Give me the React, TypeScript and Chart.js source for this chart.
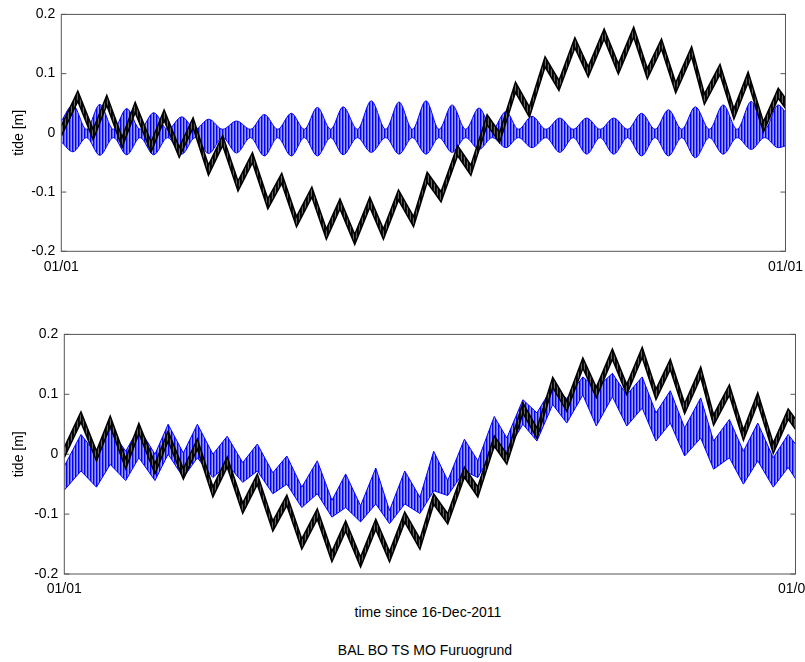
import React, { useEffect, useRef } from 'react';
import { Chart, registerables } from 'chart.js';

Chart.register(...registerables);

const FONT = "'Liberation Sans', Arial, Helvetica, sans-serif";

// ---- axis ticks ----
const yTickValues = [-0.2, -0.1, 0, 0.1, 0.2];
const yTickLabels = ['-0.2', '-0.1', '0', '0.1', '0.2'];
const xTickValues = [0, 25];
const xTickLabels = ['01/01', '01/01'];

// ---- observed tide (black), extremes, time in days ----
const obsTimes = [0, 0.57, 1.1, 1.57, 2.1, 2.55, 3.1, 3.55, 4.07, 4.55, 5.08, 5.57, 6.1, 6.6, 7.13, 7.61, 8.12, 8.65, 9.15, 9.62, 10.13, 10.65, 11.12, 11.64, 12.16, 12.63, 13.11, 13.68, 14.14, 14.7, 15.13, 15.68, 16.16, 16.7, 17.18, 17.73, 18.19, 18.74, 19.23, 19.76, 20.23, 20.72, 21.21, 21.76, 22.2, 22.74, 23.22, 23.71, 24.24, 24.75, 25];
const observed = [0.003, 0.062, -0.003, 0.055, -0.016, 0.043, -0.024, 0.03, -0.033, 0.017, -0.063, -0.013, -0.09, -0.042, -0.12, -0.077, -0.15, -0.1, -0.171, -0.12, -0.18, -0.117, -0.171, -0.105, -0.15, -0.075, -0.108, -0.03, -0.063, 0.022, -0.008, 0.077, 0.035, 0.12, 0.08, 0.152, 0.103, 0.167, 0.108, 0.17, 0.1, 0.15, 0.076, 0.137, 0.057, 0.107, 0.032, 0.094, 0.01, 0.067, 0.05];
const OBS_HALF_BAND = 0.0085;

// ---- harmonic tide (top panel, blue) envelope ----
const tideTimes = [0, 0.4, 0.87, 1.33, 1.8, 2.26, 2.72, 3.19, 3.67, 4.16, 4.62, 5.09, 5.57, 6.05, 6.53, 7.01, 7.47, 7.94, 8.39, 8.84, 9.3, 9.73, 10.22, 10.7, 11.2, 11.66, 12.12, 12.59, 13.04, 13.49, 13.96, 14.42, 14.88, 15.35, 15.78, 16.25, 16.73, 17.21, 17.67, 18.14, 18.6, 19.07, 19.55, 20.03, 20.5, 20.96, 21.42, 21.89, 22.37, 22.85, 23.33, 23.82, 24.28, 24.75, 25];
const tideUpper = [0.02, 0.047, 0.006, 0.048, 0.006, 0.041, 0.006, 0.034, 0.006, 0.027, 0.006, 0.023, 0.006, 0.02, 0.006, 0.031, 0.006, 0.033, 0.006, 0.043, 0.006, 0.044, 0.006, 0.054, 0.006, 0.052, 0.006, 0.054, 0.006, 0.047, 0.006, 0.042, 0.006, 0.036, 0.006, 0.028, 0.006, 0.025, 0.006, 0.025, 0.006, 0.025, 0.006, 0.033, 0.006, 0.039, 0.006, 0.044, 0.006, 0.047, 0.006, 0.053, 0.006, 0.047, 0.035];
const tideLower = [-0.015, -0.032, -0.008, -0.038, -0.008, -0.037, -0.008, -0.037, -0.008, -0.036, -0.008, -0.035, -0.008, -0.034, -0.008, -0.039, -0.008, -0.039, -0.008, -0.039, -0.008, -0.037, -0.008, -0.033, -0.008, -0.036, -0.008, -0.036, -0.008, -0.033, -0.008, -0.028, -0.008, -0.025, -0.008, -0.025, -0.008, -0.033, -0.008, -0.036, -0.008, -0.036, -0.008, -0.039, -0.008, -0.039, -0.008, -0.042, -0.008, -0.036, -0.008, -0.028, -0.008, -0.025, -0.022];

// ---- model tide (bottom panel, blue) envelope at obsTimes ----
const modelUpper = [-0.02, 0.033, 0.0, 0.042, 0.005, 0.044, 0.0, 0.05, 0.002, 0.05, 0.0, 0.03, -0.014, 0.017, -0.031, -0.003, -0.055, -0.011, -0.077, -0.033, -0.086, -0.023, -0.094, -0.028, -0.072, 0.005, -0.044, 0.025, -0.011, 0.063, 0.027, 0.091, 0.069, 0.113, 0.093, 0.129, 0.11, 0.135, 0.099, 0.129, 0.069, 0.106, 0.044, 0.094, 0.022, 0.058, 0.005, 0.052, -0.006, 0.033, 0.017];
const modelLower = [-0.06, -0.028, -0.055, -0.017, -0.044, -0.006, -0.044, 0.0, -0.039, -0.006, -0.039, -0.017, -0.047, -0.028, -0.066, -0.05, -0.089, -0.066, -0.105, -0.089, -0.113, -0.083, -0.116, -0.083, -0.099, -0.061, -0.069, -0.028, -0.039, 0.011, 0.005, 0.05, 0.022, 0.083, 0.052, 0.099, 0.047, 0.096, 0.047, 0.077, 0.022, 0.052, -0.003, 0.027, -0.025, -0.006, -0.05, -0.011, -0.055, -0.022, -0.041];

function stripePattern(colors: string[]): CanvasPattern | string {
  const c = document.createElement('canvas');
  c.width = colors.length;
  c.height = 1;
  const ctx = c.getContext('2d');
  if (!ctx) return colors[0];
  colors.forEach((col, i) => {
    ctx.fillStyle = col;
    ctx.fillRect(i, 0, 1, 1);
  });
  return ctx.createPattern(c, 'repeat') || colors[0];
}

function band(xs: number[], upper: number[], lower: number[], line: string, fill: any, order: number, smooth: boolean, width: number) {
  const common = {
    borderColor: line,
    borderWidth: width,
    pointRadius: 0,
    pointHoverRadius: 0,
    order,
    tension: smooth ? 0.4 : 0,
    cubicInterpolationMode: smooth ? 'monotone' : 'default',
  };
  return [
    { ...common, data: xs.map((x, i) => ({ x, y: upper[i] })), fill: false },
    { ...common, data: xs.map((x, i) => ({ x, y: lower[i] })), fill: '-1', backgroundColor: fill },
  ];
}

const boxPlugin = {
  id: 'matlabBox',
  beforeDatasetsDraw(chart: any) {
    const { ctx, chartArea } = chart;
    const { left, right } = chartArea;
    const y = chart.scales.y;
    ctx.save();
    ctx.strokeStyle = '#555';
    ctx.lineWidth = 1;
    yTickValues.forEach((v) => {
      const py = y.getPixelForValue(v);
      ctx.beginPath();
      ctx.moveTo(left, py);
      ctx.lineTo(left + 5, py);
      ctx.moveTo(right, py);
      ctx.lineTo(right - 5, py);
      ctx.stroke();
    });
    ctx.restore();
  },
  afterDatasetsDraw(chart: any) {
    const { ctx, chartArea } = chart;
    const { left, right, top, bottom } = chartArea;
    ctx.save();
    ctx.strokeStyle = '#555';
    ctx.lineWidth = 1;
    ctx.strokeRect(left, top, right - left, bottom - top);
    ctx.restore();
  },
};

type PanelProps = {
  top: number;
  width: number;
  height: number;
  plotLeft: number;
  plotRight: number;
  plotTop: number;
  plotBottom: number;
  kind: 'harmonic' | 'model';
};

const X_AXIS_H = 22;

function Panel(p: PanelProps) {
  const ref = useRef<HTMLCanvasElement | null>(null);
  useEffect(() => {
    const canvas = ref.current;
    if (!canvas) return;
    const bluePattern = stripePattern(['#0000ff', '#5a5aff', '#9c9cff']);
    const blackPattern = stripePattern(['#000000', '#111111', '#666666']);
    const blue =
      p.kind === 'harmonic'
        ? band(tideTimes, tideUpper, tideLower, '#0000ff', bluePattern, 2, true, 1)
        : band(obsTimes, modelUpper, modelLower, '#0000ff', bluePattern, 2, false, 1);
    const obsUpper = observed.map((v) => v + OBS_HALF_BAND);
    const obsLower = observed.map((v) => v - OBS_HALF_BAND);
    const black = band(obsTimes, obsUpper, obsLower, '#000000', blackPattern, 1, false, 1.5);
    const font = { family: FONT, size: 14 };
    const chart = new Chart(canvas, {
      type: 'line',
      data: { datasets: [...black, ...blue] as any },
      options: {
        animation: false,
        responsive: false,
        maintainAspectRatio: false,
        devicePixelRatio: 1,
        events: [],
        layout: {
          padding: {
            left: 0,
            top: p.plotTop,
            right: p.width - p.plotRight,
            bottom: p.height - p.plotBottom - X_AXIS_H,
          },
        },
        plugins: { legend: { display: false }, tooltip: { enabled: false } },
        scales: {
          x: {
            type: 'linear',
            min: 0,
            max: 25,
            grid: { display: false, drawTicks: false },
            border: { display: false },
            afterBuildTicks: (s: any) => {
              s.ticks = xTickValues.map((v) => ({ value: v }));
            },
            afterFit: (s: any) => {
              s.height = X_AXIS_H;
            },
            ticks: {
              autoSkip: false,
              maxRotation: 0,
              padding: 7,
              color: '#000',
              font,
              callback: (_v: any, i: number) => xTickLabels[i],
            },
          },
          y: {
            type: 'linear',
            min: -0.2,
            max: 0.2,
            grid: { display: false, drawTicks: false },
            border: { display: false },
            afterBuildTicks: (s: any) => {
              s.ticks = yTickValues.map((v) => ({ value: v }));
            },
            afterFit: (s: any) => {
              s.width = p.plotLeft;
            },
            ticks: {
              padding: 6,
              color: '#000',
              font,
              callback: (_v: any, i: number) => yTickLabels[i],
            },
            title: {
              display: true,
              text: 'tide [m]',
              color: '#000',
              font,
              padding: { top: 10.6, bottom: 0 },
            },
          },
        },
      } as any,
      plugins: [boxPlugin],
    });
    return () => chart.destroy();
  }, []);
  return (
    <canvas
      ref={ref}
      width={p.width}
      height={p.height}
      style={{ position: 'absolute', left: 0, top: p.top, width: p.width, height: p.height }}
    />
  );
}

export default function App() {
  const textStyle: React.CSSProperties = {
    position: 'absolute',
    fontFamily: FONT,
    fontSize: 14,
    lineHeight: '16px',
    color: '#000',
    whiteSpace: 'nowrap',
    textAlign: 'center',
    width: 300,
  };
  return (
    <div
      style={{
        position: 'fixed',
        left: 0,
        top: 0,
        width: 805,
        height: 662,
        overflow: 'hidden',
        background: '#fff',
      }}
    >
      <Panel top={0} width={810} height={280} plotLeft={61.3} plotRight={787} plotTop={12.3} plotBottom={251.3} kind="harmonic" />
      <Panel top={320} width={820} height={280} plotLeft={64.3} plotRight={795.7} plotTop={12.3} plotBottom={254} kind="model" />
      <div style={{ ...textStyle, left: 428 - 150, top: 603.5 }}>time since 16-Dec-2011</div>
      <div style={{ ...textStyle, left: 425 - 150, top: 642 }}>BAL BO TS MO Furuogrund</div>
    </div>
  );
}
